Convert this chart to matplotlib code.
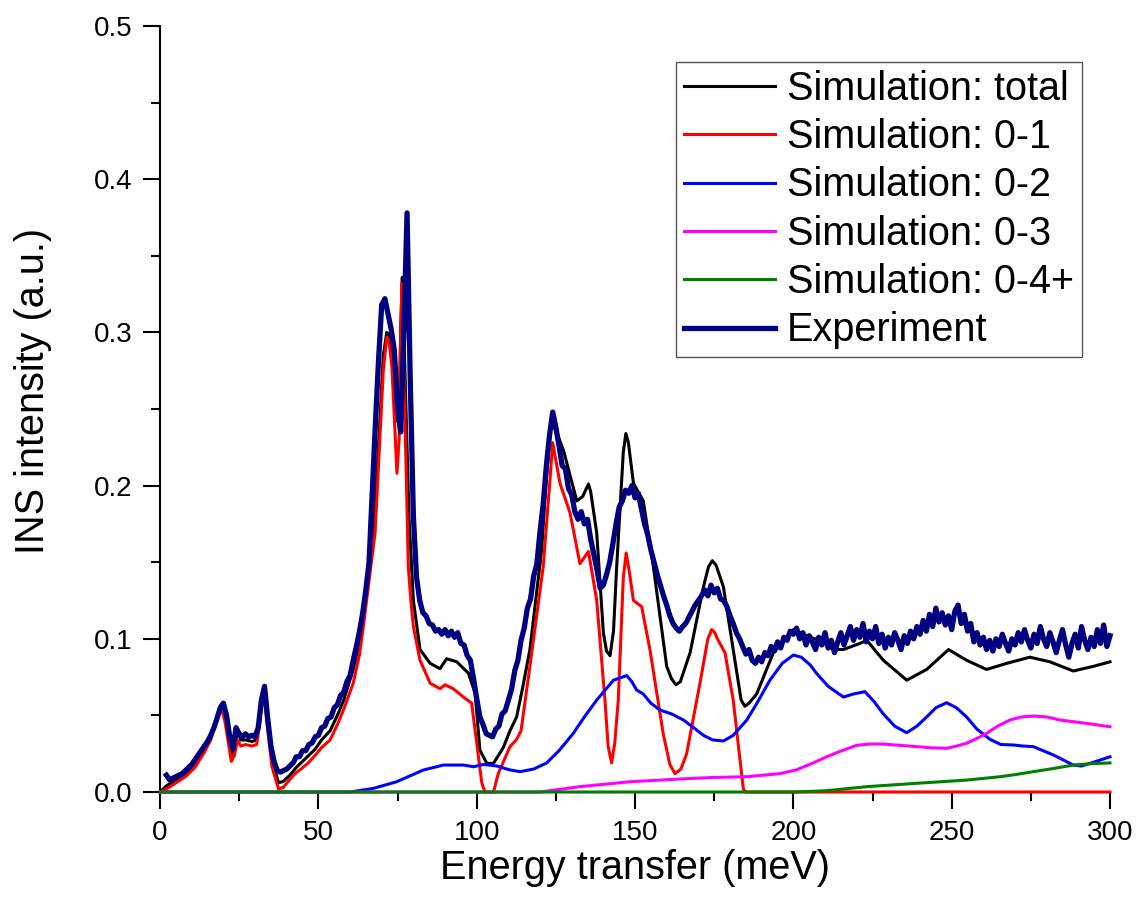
import matplotlib
matplotlib.use("Agg")
import matplotlib.pyplot as plt
import numpy as np
from matplotlib.ticker import MultipleLocator, FormatStrFormatter

plt.rcParams['font.family'] = ['Liberation Sans', 'DejaVu Sans']

# experiment: 1 meV grid from 2 to 300 meV
exp_energy = np.arange(2, 301)
exp_intensity = [
    0.011, 0.008, 0.009, 0.010, 0.011, 0.012, 0.014, 0.016, 0.018, 0.021,  # 2
    0.024, 0.027, 0.030, 0.033, 0.037, 0.042, 0.048, 0.055, 0.058, 0.050,  # 12
    0.036, 0.028, 0.042, 0.038, 0.036, 0.038, 0.036, 0.037, 0.036, 0.042,  # 22
    0.060, 0.069, 0.048, 0.030, 0.020, 0.014, 0.013, 0.014, 0.015, 0.017,  # 32
    0.019, 0.023, 0.023, 0.027, 0.027, 0.031, 0.032, 0.036, 0.037, 0.042,  # 42
    0.043, 0.048, 0.049, 0.055, 0.057, 0.063, 0.065, 0.072, 0.076, 0.086,  # 52
    0.095, 0.105, 0.117, 0.132, 0.150, 0.195, 0.240, 0.282, 0.318, 0.322,  # 62
    0.312, 0.302, 0.288, 0.250, 0.235, 0.300, 0.378, 0.270, 0.180, 0.140,  # 72
    0.125, 0.117, 0.115, 0.110, 0.109, 0.105, 0.106, 0.103, 0.106, 0.102,  # 82
    0.105, 0.101, 0.104, 0.097, 0.096, 0.089, 0.086, 0.074, 0.061, 0.049,  # 92
    0.044, 0.038, 0.037, 0.036, 0.041, 0.043, 0.051, 0.053, 0.060, 0.067,  # 102
    0.079, 0.086, 0.099, 0.107, 0.120, 0.126, 0.141, 0.149, 0.170, 0.188,  # 112
    0.213, 0.233, 0.248, 0.238, 0.226, 0.213, 0.211, 0.198, 0.194, 0.183,  # 122
    0.178, 0.183, 0.175, 0.178, 0.165, 0.155, 0.145, 0.133, 0.135, 0.142,  # 132
    0.150, 0.162, 0.175, 0.186, 0.190, 0.197, 0.195, 0.200, 0.192, 0.195,  # 142
    0.185, 0.175, 0.168, 0.158, 0.150, 0.142, 0.135, 0.128, 0.122, 0.115,  # 152
    0.110, 0.107, 0.105, 0.108, 0.110, 0.114, 0.118, 0.122, 0.125, 0.128,  # 162
    0.132, 0.128, 0.135, 0.130, 0.133, 0.126, 0.125, 0.121, 0.115, 0.110,  # 172
    0.104, 0.100, 0.095, 0.090, 0.093, 0.086, 0.084, 0.088, 0.085, 0.091,  # 182
    0.089, 0.095, 0.092, 0.098, 0.094, 0.101, 0.099, 0.105, 0.103, 0.107,  # 192
    0.100, 0.104, 0.096, 0.102, 0.098, 0.093, 0.101, 0.096, 0.104, 0.094,  # 202
    0.099, 0.091, 0.098, 0.104, 0.096, 0.102, 0.108, 0.099, 0.106, 0.101,  # 212
    0.110, 0.098, 0.105, 0.100, 0.108, 0.097, 0.103, 0.094, 0.101, 0.096,  # 222
    0.104, 0.099, 0.093, 0.102, 0.097, 0.105, 0.100, 0.108, 0.103, 0.112,  # 232
    0.105, 0.116, 0.108, 0.120, 0.111, 0.117, 0.109, 0.115, 0.106, 0.118,  # 242
    0.122, 0.110, 0.116, 0.105, 0.110, 0.098, 0.104, 0.096, 0.101, 0.093,  # 252
    0.099, 0.092, 0.100, 0.095, 0.103, 0.097, 0.092, 0.100, 0.096, 0.104,  # 262
    0.098, 0.106, 0.099, 0.094, 0.103, 0.097, 0.108, 0.100, 0.095, 0.104,  # 272
    0.098, 0.091, 0.099, 0.106, 0.096, 0.088, 0.097, 0.103, 0.094, 0.108,  # 282
    0.099, 0.093, 0.101, 0.095, 0.106, 0.097, 0.109, 0.095, 0.102,         # 292
]

# simulation: total
total_energy = [0, 2, 5, 8, 11, 14, 16, 18, 19.5, 20.5, 22.5, 23.5, 24.5, 25.5, 27, 29,
                30.5, 31.5, 32.7, 33.7, 35.3, 37.4, 39, 41, 43, 45, 47, 49, 51, 53.7,
                56, 58, 61, 63, 64.5, 66.8, 68, 69.5, 70.5, 71.6, 72.3, 73.2, 74.2, 75,
                75.6, 76.1, 76.5, 77, 77.8, 78.6, 80, 82.1, 85.3, 88.4, 90.5, 93.7,
                97.4, 99.5, 101, 103.2, 105.3, 108.4, 110.5, 112.6, 114.5, 116.8,
                120.5, 122, 123.5, 125, 127.4, 131.6, 133.5, 134.6, 135.3, 136,
                137.9, 140, 141, 142.1, 143.2, 144.2, 146.3, 147.1, 147.9, 149.5,
                152.6, 155.8, 160, 161.5, 162.9, 164.3, 167.4, 171.6, 173.2, 174.4,
                175.6, 177.9, 181, 183.5, 184.7, 186, 188.4, 193.7, 200, 205.3,
                208.4, 212.6, 215.8, 221, 223.2, 228.4, 235.8, 242.1, 249, 254.7, 261,
                267.4, 274.7, 281, 288.4, 294.7, 300]
total_intensity = [0.0, 0.004, 0.008, 0.012, 0.019, 0.028, 0.036, 0.050, 0.057, 0.050,
                   0.024, 0.028, 0.040, 0.034, 0.034, 0.033, 0.034, 0.048, 0.068, 0.052,
                   0.022, 0.006, 0.007, 0.011, 0.016, 0.020, 0.024, 0.028, 0.034, 0.040,
                   0.050, 0.060, 0.080, 0.098, 0.118, 0.160, 0.190, 0.245, 0.285, 0.300,
                   0.298, 0.282, 0.258, 0.242, 0.260, 0.310, 0.336, 0.300, 0.240, 0.180,
                   0.125, 0.093, 0.084, 0.0805, 0.087, 0.085, 0.0775, 0.0644, 0.0274,
                   0.0187, 0.0187, 0.029, 0.040, 0.049, 0.068, 0.093, 0.158, 0.205, 0.241,
                   0.236, 0.223, 0.190, 0.193, 0.198, 0.201, 0.196, 0.169, 0.104, 0.092,
                   0.089, 0.105, 0.147, 0.222, 0.234, 0.228, 0.2015, 0.190, 0.147, 0.082,
                   0.074, 0.070, 0.072, 0.091, 0.134, 0.147, 0.151, 0.148, 0.134, 0.093,
                   0.060, 0.056, 0.058, 0.064, 0.091, 0.106, 0.101, 0.099, 0.093, 0.093,
                   0.097, 0.099, 0.086, 0.073, 0.080, 0.093, 0.086, 0.080, 0.084, 0.088,
                   0.085, 0.079, 0.082, 0.085]

# simulation: 0-1
sim01_energy = [0, 2, 5, 8, 11, 14, 16, 18, 19.5, 20.5, 22.5, 23.5, 24.5, 25.5, 27, 29,
                30.5, 31.5, 32.5, 33.5, 35.3, 37.4, 38.9, 40.5, 42.6, 44.5, 46.8, 49,
                51, 53.7, 56, 58, 61, 63, 64.2, 66.8, 67.9, 69.5, 70.5, 71.6, 72.3,
                73.2, 74.2, 74.8, 75.5, 76.0, 76.4, 76.9, 77.7, 78.4, 79.2, 80, 82.1,
                85.3, 88.4, 90, 92.6, 95.8, 98.4, 100, 101.6, 102.6, 105.3, 106.8,
                110.5, 112.5, 114, 116.8, 121, 123, 124, 126.3, 129.5, 132.6, 135.3,
                137.9, 140.5, 141.5, 142.6, 143.6, 144.7, 146.3, 147.2, 148.1, 149.5,
                152.1, 154.7, 158.9, 161, 162.6, 164.5, 166.3, 170.5, 173, 174.2,
                175.2, 176, 178.4, 181, 184.2, 185, 300]
sim01_intensity = [0.0, 0.002, 0.006, 0.010, 0.016, 0.026, 0.034, 0.048, 0.054, 0.046,
                   0.020, 0.024, 0.034, 0.030, 0.031, 0.030, 0.031, 0.045, 0.066, 0.050,
                   0.017, 0.002, 0.003, 0.007, 0.012, 0.015, 0.019, 0.024, 0.029, 0.034,
                   0.044, 0.054, 0.071, 0.090, 0.108, 0.151, 0.169, 0.234, 0.275, 0.297,
                   0.295, 0.278, 0.235, 0.208, 0.230, 0.300, 0.332, 0.280, 0.212, 0.147,
                   0.125, 0.108, 0.086, 0.071, 0.0674, 0.070, 0.0674, 0.062, 0.058,
                   0.032, 0.006, 0.0, 0.0, 0.012, 0.0296, 0.034, 0.040, 0.082, 0.147,
                   0.200, 0.228, 0.2015, 0.182, 0.149, 0.157, 0.125, 0.060, 0.030, 0.019,
                   0.032, 0.060, 0.140, 0.156, 0.145, 0.125, 0.121, 0.093, 0.038, 0.018,
                   0.012, 0.015, 0.025, 0.071, 0.100, 0.106, 0.104, 0.100, 0.091, 0.060,
                   0.002, 0.0, 0.0]

# simulation: 0-2
sim02_energy = [0, 60, 67.4, 74.7, 83.2, 89.5, 95.8, 99, 102.1, 106.3, 110.5, 113.7,
                118, 122.1, 126, 130.5, 134, 137.9, 143.2, 147.4, 149, 150.5, 152.6,
                155, 157.9, 161.5, 165.3, 168.5, 171.6, 174.5, 177.9, 181, 185.3,
                188.5, 192.6, 196.5, 200, 202.5, 205.3, 207.3, 211, 215.8, 219, 222.6,
                225.5, 228.4, 232, 235.8, 239, 242.1, 245, 248.4, 251.5, 254.7, 258,
                262.1, 265.5, 269.5, 272.5, 275.8, 282.1, 288.4, 291, 293.7, 300]
sim02_intensity = [0.0, 0.0, 0.0024, 0.0067, 0.0144, 0.0176, 0.0176, 0.0165, 0.018,
                   0.017, 0.0144, 0.0133, 0.015, 0.019, 0.027, 0.0383, 0.049, 0.060,
                   0.073, 0.076, 0.072, 0.0666, 0.064, 0.058, 0.0535, 0.051, 0.047,
                   0.042, 0.037, 0.034, 0.0333, 0.037, 0.047, 0.058, 0.073, 0.084,
                   0.0894, 0.088, 0.083, 0.0775, 0.069, 0.062, 0.064, 0.0655, 0.059,
                   0.051, 0.043, 0.0387, 0.043, 0.049, 0.055, 0.0583, 0.055, 0.049,
                   0.041, 0.0344, 0.031, 0.0307, 0.030, 0.0296, 0.0242, 0.0176, 0.017,
                   0.0187, 0.023]

# simulation: 0-3
sim03_energy = [0, 120, 132.6, 148.4, 164.2, 174.7, 185.3, 195.8, 201, 206.3, 210.5,
                214.7, 220, 224, 228.4, 239, 244, 248.4, 251.5, 254.7, 258, 261, 264.5,
                268.4, 272, 275.8, 280, 284.2, 292.6, 300]
sim03_intensity = [0.0, 0.0, 0.0035, 0.0067, 0.0085, 0.0095, 0.010, 0.012, 0.0145,
                   0.019, 0.023, 0.0265, 0.0305, 0.0313, 0.0313, 0.0296, 0.0288, 0.0285,
                   0.030, 0.0318, 0.035, 0.0383, 0.043, 0.047, 0.049, 0.0496, 0.049,
                   0.047, 0.0448, 0.0426]

# simulation: 0-4+
sim04_energy = [0, 200, 210, 216, 223.2, 239, 254.7, 265.3, 270.5, 275.8, 282, 288.4,
                294, 300]
sim04_intensity = [0.0, 0.0, 0.0008, 0.002, 0.0035, 0.0057, 0.0078, 0.010, 0.0115,
                   0.0133, 0.0153, 0.0176, 0.0185, 0.019]

fig = plt.figure(figsize=(11.4, 9.15), dpi=100)
ax = fig.add_axes([0.1404, 0.1344, 0.8333, 0.8372])

lw = 2.2
ax.plot(total_energy, total_intensity, color='black', lw=lw, label='Simulation: total')
ax.plot(sim01_energy, sim01_intensity, color='#ff0000', lw=lw, label='Simulation: 0-1')
ax.plot(sim02_energy, sim02_intensity, color='#0000ff', lw=lw, label='Simulation: 0-2')
ax.plot(sim03_energy, sim03_intensity, color='#ff00ff', lw=lw, label='Simulation: 0-3')
ax.plot(sim04_energy, sim04_intensity, color='#008000', lw=lw, label='Simulation: 0-4+')
ax.plot(exp_energy, exp_intensity, color='#000080', lw=3.8, label='Experiment')
for line in ax.get_lines():
    line.set_clip_on(False)
    line.set_zorder(3)
    line.set_solid_joinstyle('round')

ax.set_xlim(0, 300)
ax.set_ylim(0, 0.5)
ax.xaxis.set_major_locator(MultipleLocator(50))
ax.xaxis.set_minor_locator(MultipleLocator(25))
ax.yaxis.set_major_locator(MultipleLocator(0.1))
ax.yaxis.set_minor_locator(MultipleLocator(0.05))
ax.yaxis.set_major_formatter(FormatStrFormatter('%.1f'))

for side in ['top', 'right']:
    ax.spines[side].set_visible(False)
for side in ['left', 'bottom']:
    ax.spines[side].set_linewidth(1.5)

ax.tick_params(which='major', direction='out', length=12, width=1.5, labelsize=20, pad=8)
ax.tick_params(which='minor', direction='out', length=6.5, width=1.5)

ax.set_xlabel('Energy transfer (meV)', fontsize=28.5, va='top')
ax.xaxis.set_label_coords(0.5, -0.075)
ax.set_ylabel('INS intensity (a.u.)', fontsize=28.5)
ax.yaxis.set_label_coords(-0.1137, 0.5235)

leg = ax.legend(loc='upper right', bbox_to_anchor=(0.9705, 0.953), borderaxespad=0,
                fontsize=28.5, handlelength=2.3, handletextpad=0.3, labelspacing=0.26,
                borderpad=0.2, fancybox=False, framealpha=1, edgecolor='#555555')
leg.get_frame().set_linewidth(1.0)

fig.savefig('out.png', dpi=100)
